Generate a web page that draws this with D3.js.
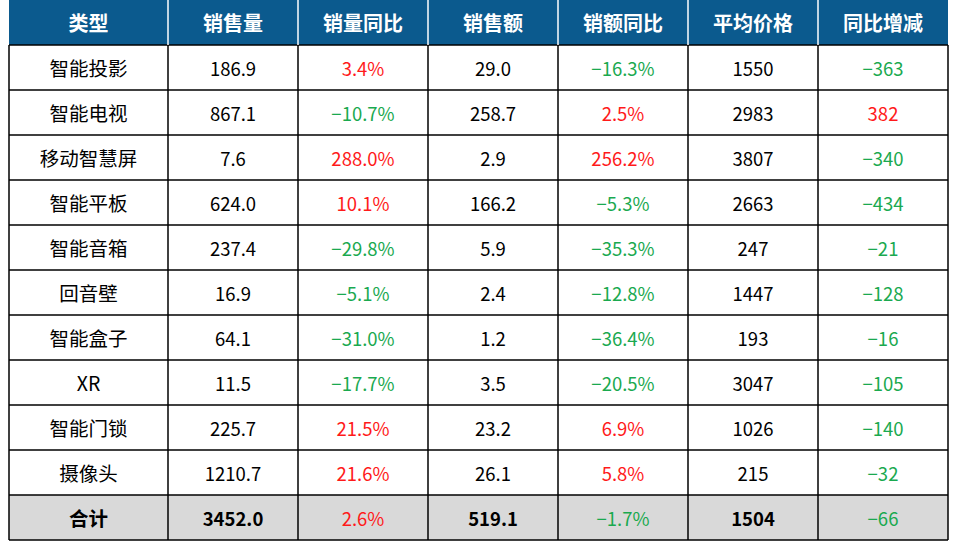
<!DOCTYPE html>
<html>
<head>
<meta charset="utf-8">
<script src="https://cdn.jsdelivr.net/npm/d3@7"></script>
<style>
  body { margin: 0; background: #fff; }
  svg { display: block; }
</style>
</head>
<body>
<svg id="chart"></svg>
<script>
// DATA -----------------------------------------------------------
const headers = ["类型", "销售量", "销量同比", "销售额", "销额同比", "平均价格", "同比增减"]
const categories = ["智能投影", "智能电视", "移动智慧屏", "智能平板", "智能音箱", "回音壁", "智能盒子", "XR", "智能门锁", "摄像头"]
const salesVolume = [186.9, 867.1, 7.6, 624.0, 237.4, 16.9, 64.1, 11.5, 225.7, 1210.7]
const volumeYoy = [3.4, -10.7, 288.0, 10.1, -29.8, -5.1, -31.0, -17.7, 21.5, 21.6]
const salesAmount = [29.0, 258.7, 2.9, 166.2, 5.9, 2.4, 1.2, 3.5, 23.2, 26.1]
const amountYoy = [-16.3, 2.5, 256.2, -5.3, -35.3, -12.8, -36.4, -20.5, 6.9, 5.8]
const avgPrice = [1550, 2983, 3807, 2663, 247, 1447, 193, 3047, 1026, 215]
const priceChange = [-363, 382, -340, -434, -21, -128, -16, -105, -140, -32]
const totalRow = ["合计", 3452.0, 2.6, 519.1, -1.7, 1504, -66]

const width = 956
const height = 541
const margin = { top: 0, left: 9 }
const colWidths = [159, 130, 130, 130, 130, 130, 130]

const headerColor = "#0b5a8e"
const red = "#ff1a1a"
const green = "#1aa94f"
const font = `"Noto Sans CJK SC", "Noto Sans", sans-serif`

// build rows ------------------------------------------------------
const fmt1 = d3.format(".1f")
const fmt0 = d3.format("d")
const pct = d => fmt1(d) + "%"
const signColor = d => d < 0 ? green : red

const rows = categories.map((c, i) => [
    { text: c, color: "#000", cjk: true },
    { text: fmt1(salesVolume[i]), color: "#000" },
    { text: pct(volumeYoy[i]), color: signColor(volumeYoy[i]) },
    { text: fmt1(salesAmount[i]), color: "#000" },
    { text: pct(amountYoy[i]), color: signColor(amountYoy[i]) },
    { text: fmt0(avgPrice[i]), color: "#000" },
    { text: fmt0(priceChange[i]), color: signColor(priceChange[i]) }
])

const totalCells = [
    { text: totalRow[0], color: "#000", bold: true, cjk: true },
    { text: fmt1(totalRow[1]), color: "#000", bold: true },
    { text: pct(totalRow[2]), color: signColor(totalRow[2]) },
    { text: fmt1(totalRow[3]), color: "#000", bold: true },
    { text: pct(totalRow[4]), color: signColor(totalRow[4]) },
    { text: fmt0(totalRow[5]), color: "#000", bold: true },
    { text: fmt0(totalRow[6]), color: signColor(totalRow[6]) }
]

// SCALES ----------------------------------------------------------
const colEdges = [margin.left]
colWidths.forEach(w => colEdges.push(colEdges[colEdges.length - 1] + w))
const tableRight = colEdges[colEdges.length - 1]

const rowKeys = ["header", ...categories, "total"]
const yScale = d3.scaleBand()
    .domain(rowKeys)
    .range([margin.top, 540])

const svg = d3.select("#chart")
    .attr("width", width)
    .attr("height", height)
    .style("font-family", font)

// backgrounds
svg.append("rect")
    .attr("x", margin.left).attr("y", yScale("header"))
    .attr("width", tableRight - margin.left).attr("height", yScale.bandwidth())
    .attr("fill", headerColor)

svg.append("rect")
    .attr("x", margin.left).attr("y", yScale("total"))
    .attr("width", tableRight - margin.left).attr("height", yScale.bandwidth())
    .attr("fill", "#d9d9d9")

// grid lines
const grid = svg.append("g")

rowKeys.slice(1).forEach(k => {
    grid.append("line")
        .attr("x1", margin.left).attr("x2", tableRight)
        .attr("y1", yScale(k)).attr("y2", yScale(k))
        .attr("stroke", "#000").attr("stroke-width", 1.5)
})
grid.append("line")
    .attr("x1", margin.left).attr("x2", tableRight)
    .attr("y1", 540).attr("y2", 540)
    .attr("stroke", "#000").attr("stroke-width", 1.5)

colEdges.forEach((x, i) => {
    // body verticals
    grid.append("line")
        .attr("x1", x).attr("x2", x)
        .attr("y1", yScale(categories[0])).attr("y2", 540)
        .attr("stroke", "#000").attr("stroke-width", 1.5)
    // header separators in white
    if (i > 0 && i < colEdges.length - 1) {
        grid.append("line")
            .attr("x1", x).attr("x2", x)
            .attr("y1", yScale("header")).attr("y2", yScale("header") + yScale.bandwidth())
            .attr("stroke", "#fff").attr("stroke-width", 1.5)
    }
})

// TEXT ------------------------------------------------------------
const colCenter = i => (colEdges[i] + colEdges[i + 1]) / 2

function drawRow(key, cells, opts) {
    const cy = yScale(key) + yScale.bandwidth() / 2
    svg.append("g")
        .selectAll("text")
        .data(cells)
        .join("text")
        .attr("x", (d, i) => colCenter(i))
        .attr("y", cy)
        .attr("text-anchor", "middle")
        .attr("dominant-baseline", "central")
        .attr("font-size", d => d.cjk ? opts.size + 1 : opts.size)
        .attr("font-weight", d => (opts.bold || d.bold) ? "bold" : "normal")
        .attr("fill", d => opts.fill || d.color)
        .text(d => d.text)
}

drawRow("header", headers.map(h => ({ text: h })), { size: 20, bold: true, fill: "#fff" })
categories.forEach((c, i) => drawRow(c, rows[i], { size: 18.5 }))
drawRow("total", totalCells, { size: 18.5 })
</script>
</body>
</html>
